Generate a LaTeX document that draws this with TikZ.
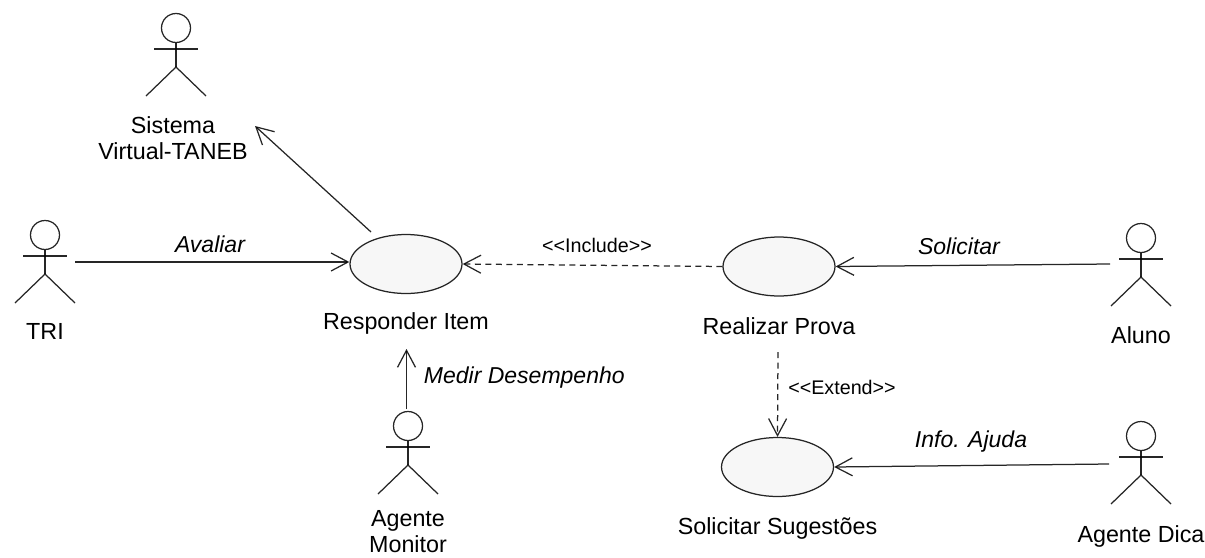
\documentclass[tikz,border=0pt]{standalone}
\usepackage{fontspec}
\setmainfont{Liberation Sans}
\usetikzlibrary{positioning,arrows.meta,shapes.geometric}

\begin{document}
\begin{tikzpicture}[x=1pt,y=-1pt,on grid]
      \tikzset{usecase/.style = {draw,
          ellipse,
          fill          = black!3,
          inner sep     = 0pt,
          minimum width = 112pt,
          minimum height= 59pt},
        headnode/.style = {draw,
          circle,
          inner sep  = 0pt,
          minimum size = 29pt},
        caption/.style = {font = \fontsize{23.3}{26}\selectfont,
          inner sep = 0pt,
          align = center},
        edgetext/.style = {font = \fontsize{23}{27}\selectfont\itshape,
          anchor = base},
        stereotype/.style = {font = \fontsize{19.7}{24}\selectfont,
          anchor = base},
        assoc/.style = {-{Straight Barb[length=17pt,width=18pt]}},
        depend/.style = {assoc, dash pattern = on 6pt off 4.5pt},
        every path/.append style = {line width = 1.25pt, draw opacity = .85},
        actor/.pic = {
          \node[headnode] (-head) at (0,0) {};
          \draw (-head.south) -- (0,39);
          \draw (-22,21) -- (22,21);
          \draw (-30,68) -- (0,39) -- (30,68);
        }}
      \useasboundingbox (0,0) rectangle (1205,557);
      \node[usecase] (resp) at (406,264) {};
      \node[usecase, below right = 2.5pt and 373pt of resp] (real) {};
      \node[usecase, below left = 200.5pt and 1.5pt of real] (sug) {};
      \pic (sis) at (176,28) {actor};
      \pic (tri) at (45,235) {actor};
      \pic (mon) at (408,426) {actor};
      \pic (alu) at (1141,238) {actor};
      \pic (dic) at (1141,436) {actor};
      \node[caption, below = 65pt of resp, anchor = base] (resplabel) {Responder Item};
      \node[caption, below = 67.5pt of real, anchor = base] (reallabel) {Realizar Prova};
      \node[caption, below = 67pt of sug, anchor = base] (suglabel) {Solicitar Sugestões};
      \node[caption, below = 104pt of tri-head, anchor = base] (trilabel) {TRI};
      \node[caption, below = 105pt of alu-head, anchor = base] (alulabel) {Aluno};
      \node[caption, below = 106pt of dic-head, anchor = base] (diclabel) {Agente Dica};
      \node[caption, below left = 110pt and 3pt of sis-head] (sislabel) {Sistema\\Virtual-TANEB};
      \node[caption, below = 105.5pt of mon-head] (monlabel) {Agente\\Monitor};
      \node[edgetext] (avaliar) at (210,252) {Avaliar};
      \node[edgetext, anchor = base west] (medir) at (420,383) {Medir Desempenho};
      \node[edgetext] (solicitar) at (959,254) {Solicitar};
      \node[edgetext] (info) at (971,447) {Info. Ajuda};
      \node[stereotype] (include) at (597,252) {<{}<Include>{}>};
      \node[stereotype] (extend) at (842,394) {<{}<Extend>{}>};
      \coordinate (triout) at (75,262);
      \coordinate (respout) at (371,232);
      \coordinate (sisin) at (255,126);
      \coordinate (monout) at (406.5,409);
      \coordinate (respin) at (406.5,349);
      \coordinate (aluout) at (1110,264);
      \coordinate (dicout) at (1109,464);
      \coordinate (realout) at (778,352);
      \draw[assoc] (triout) -- (triout -| resp.west);
      \draw[assoc] (respout) -- (sisin);
      \draw[assoc] (monout) -- (respin);
      \draw[assoc] (aluout) -- (real.east);
      \draw[assoc] (dicout) -- (sug.east);
      \draw[depend] (real.west) -- (resp.east);
      \draw[depend] (realout) -- (sug.north);
\end{tikzpicture}
\end{document}
